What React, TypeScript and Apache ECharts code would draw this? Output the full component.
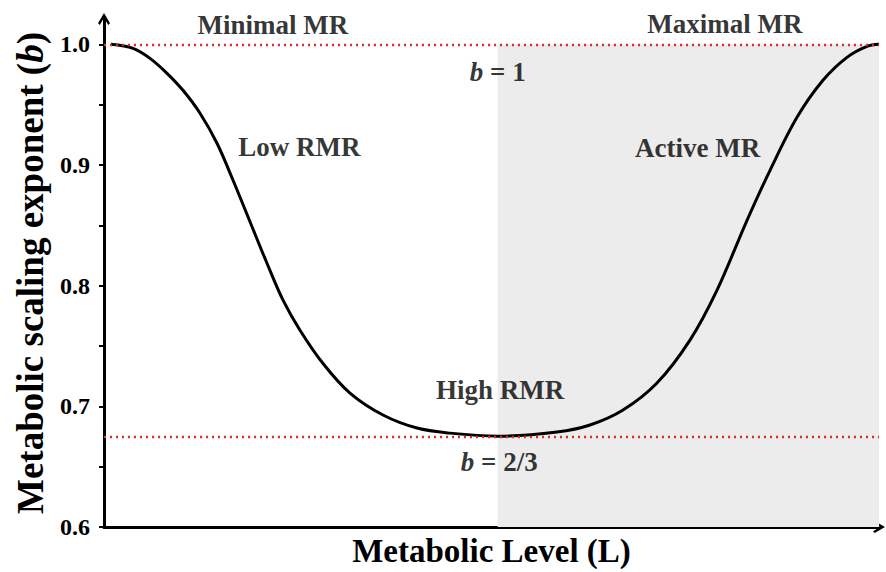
import React, { useEffect, useRef } from 'react';
import * as echarts from 'echarts';

// Metabolic level (arbitrary 0–100 scale) and the scaling exponent b
const levelX = [0.9, 3.74, 5.94, 8.13, 10.19, 12.39, 14.58, 16.65, 18.84, 21.03, 23.1, 25.29, 28.26, 31.74, 36.0, 40.39, 44.65, 50.84, 58.45, 62.71, 66.97, 71.35, 75.61, 79.1, 82.97, 85.94, 89.42, 92.77, 95.87, 98.45, 100];
const exponentB = [1.0, 0.9967, 0.9884, 0.976, 0.9619, 0.9429, 0.918, 0.8874, 0.853, 0.8186, 0.788, 0.7631, 0.7355, 0.711, 0.6928, 0.682, 0.6778, 0.6753, 0.6787, 0.6845, 0.6969, 0.7193, 0.7549, 0.7963, 0.8542, 0.8956, 0.9395, 0.9702, 0.9892, 0.9983, 1.0];

const yLabelValues = [0.6, 0.7, 0.8, 0.9, 1.0];
const yTickValues = [0.6, 0.65, 0.7, 0.75, 0.8, 0.85, 0.9, 0.95, 1.0];
const referenceLines = [1.0, 0.675];
const shadeRange = [50.8, 100];

const annotationText = ['Minimal MR', 'Maximal MR', '{i|b} = 1', 'Low RMR', 'Active MR', 'High RMR', '{i|b} = 2/3'];
const annotationX = [21.8, 80.1, 50.8, 25.2, 76.6, 51.1, 51.0];
const annotationY = [1.0162, 1.017, 0.9773, 0.9153, 0.9144, 0.7134, 0.6538];

const FONT = 'Liberation Serif';
const CHEVRON = 'path://M5,0 L10,8.6 L8.5,10 L5,4 L1.5,10 L0,8.6 Z';

export default function App() {
  const ref = useRef<HTMLDivElement>(null);
  useEffect(() => {
    document.body.style.margin = '0';
    const chart = echarts.init(ref.current!, null, { renderer: 'svg' });
    const curve = levelX.map((x, i) => [x, exponentB[i]]);
    const notes = annotationText.map((t, i) => ({ name: t, value: [annotationX[i], annotationY[i]] }));
    chart.setOption({
      animation: false,
      backgroundColor: '#ffffff',
      grid: { left: 104, right: 7, top: 19, bottom: 45, containLabel: false, outerBoundsMode: 'none' },
      xAxis: {
        type: 'value',
        min: 0,
        max: 100,
        axisLine: { show: true, symbol: ['none', CHEVRON], symbolSize: [14, 12], lineStyle: { color: '#000', width: 3 } },
        axisTick: { show: false },
        axisLabel: { show: false },
        splitLine: { show: false },
        name: 'Metabolic Level (L)',
        nameLocation: 'middle',
        nameGap: 7,
        nameTextStyle: { fontFamily: FONT, fontWeight: 'bold', fontSize: 33, color: '#000' },
      },
      yAxis: {
        type: 'value',
        min: 0.6,
        max: 1.021,
        axisLine: { show: true, symbol: ['none', CHEVRON], symbolSize: [14, 12], lineStyle: { color: '#000', width: 3 } },
        axisTick: { show: true, customValues: yTickValues, length: 5, inside: false, lineStyle: { color: '#000', width: 2 } },
        axisLabel: {
          show: true,
          customValues: yLabelValues,
          formatter: (v: number) => v.toFixed(1),
          fontFamily: FONT,
          fontWeight: 'bold',
          fontSize: 24,
          color: '#000',
          margin: 14,
        },
        splitLine: { show: false },
        name: 'Metabolic scaling exponent ({i|b})',
        nameLocation: 'middle',
        nameGap: 54,
        nameTextStyle: {
          fontFamily: FONT,
          fontWeight: 'bold',
          fontSize: 37,
          color: '#000',
          rich: { i: { fontFamily: FONT, fontWeight: 'bold', fontStyle: 'italic', fontSize: 37, color: '#000' } },
        },
      },
      series: [
        {
          type: 'line',
          silent: true,
          data: [],
          markArea: {
            silent: true,
            itemStyle: { color: '#ececec' },
            data: [[{ xAxis: shadeRange[0], yAxis: 0.6 }, { xAxis: shadeRange[1], yAxis: 1.0 }]],
          },
          z: 1,
        },
        {
          type: 'line',
          silent: true,
          data: [],
          markLine: {
            silent: true,
            precision: 4,
            symbol: 'none',
            label: { show: false },
            lineStyle: { color: '#dd2a2a', width: 2.4, type: [2, 4] },
            data: referenceLines.map((v) => ({ yAxis: v })),
          },
          z: 2,
        },
        {
          type: 'line',
          data: curve,
          smooth: 0.35,
          showSymbol: false,
          symbol: 'none',
          lineStyle: { color: '#000', width: 3 },
          silent: true,
          z: 3,
        },
        {
          type: 'scatter',
          data: notes,
          symbolSize: 0,
          silent: true,
          z: 4,
          label: {
            show: true,
            position: 'inside',
            formatter: (p: any) => p.name,
            fontFamily: FONT,
            fontWeight: 'bold',
            fontSize: 27,
            color: '#000',
            rich: { i: { fontFamily: FONT, fontWeight: 'bold', fontStyle: 'italic', fontSize: 27, color: '#000' } },
          },
        },
      ],
    });
    return () => chart.dispose();
  }, []);
  return <div ref={ref} style={{ width: 886, height: 572 }} />;
}
